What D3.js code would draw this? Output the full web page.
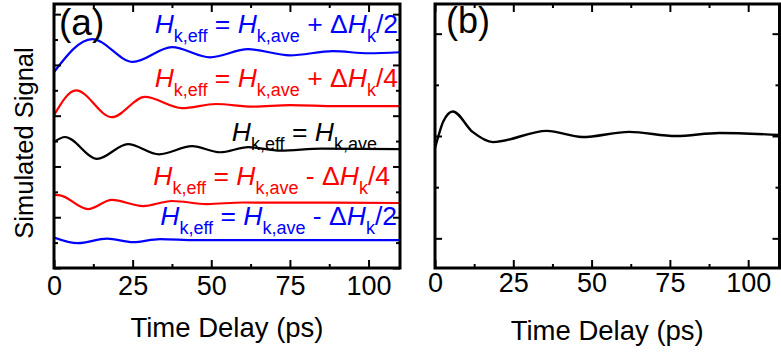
<!DOCTYPE html>
<html>
<head>
<meta charset="utf-8">
<script src="https://cdn.jsdelivr.net/npm/d3@7"></script>
<style>
  html, body { margin: 0; padding: 0; background: #fff; }
  svg { display: block; font-family: "Liberation Sans", Arial, sans-serif; }
</style>
</head>
<body>
<svg id="chart" width="781" height="352"></svg>
<script>
// ---------------- DATA ----------------
const xMajorTicks = [0, 25, 50, 75, 100];
const xMinorTicks = [12.5, 37.5, 62.5, 87.5];
const aYMajorTicks = [0, 1, 2, 3, 4, 5];
const aYMinorTicks = [0.5, 1.5, 2.5, 3.5, 4.5];
const bYMajorTicks = [-1, 0, 1];
const bYMinorTicks = [-0.5, 0.5];

// panel (a) series: [time (ps), signal]
const seriesPlusHalf = [[0,3.86],[12.1,4.51],[25.1,4.06],[37.5,4.35],[49.6,4.15],[61.7,4.31],[75,4.19],[88.7,4.27],[100,4.23],[110,4.25]];
const seriesPlusQuarter = [[0,3.01],[7,3.50],[18.4,2.97],[28.9,3.37],[40.7,3.15],[51.5,3.23],[63.3,3.18],[75,3.21],[90,3.19],[110,3.19]];
const seriesEqual = [[0,2.48],[3.5,2.58],[13.7,2.15],[23.5,2.44],[33.4,2.24],[43.9,2.40],[52.8,2.28],[61.7,2.38],[72,2.31],[85,2.35],[110,2.34]];
const seriesMinusQuarter = [[0,1.44],[2,1.43],[10.8,1.16],[18.4,1.34],[28.3,1.22],[37.5,1.32],[48.6,1.26],[60,1.29],[110,1.28]];
const seriesMinusHalf = [[0,0.60],[7.6,0.49],[16.9,0.58],[25.1,0.51],[33.7,0.57],[45,0.55],[110,0.55]];
// panel (b) series
const seriesB = [[0,-0.12],[1,-0.01],[2.6,0.14],[5.7,0.24],[12,0.04],[18.5,-0.06],[35.7,0.05],[47,-0.01],[62,0.04],[77,0.0],[90.8,0.03],[110,0.01]];

const seriesColors = ["#0000ff", "#ff0000", "#000000", "#ff0000", "#0000ff"];
const labelDeltas = ["+ ΔH|/2", "+ ΔH|/4", "", "- ΔH|/4", "- ΔH|/2"];

// ---------------- LAYOUT ----------------
const svg = d3.select("#chart");
svg.append("rect").attr("width", 781).attr("height", 352).attr("fill", "#fff");

const panels = [
  { left: 54, right: 400, top: 4, bottom: 268, yDomain: [0, 5.2], yMaj: aYMajorTicks, yMin: aYMinorTicks, tickLabelY: 295, titleY: 337 },
  { left: 435, right: 779.5, top: 4, bottom: 268, yDomain: [-1.29, 1.29], yMaj: bYMajorTicks, yMin: bYMinorTicks, tickLabelY: 292, titleY: 340 }
];

panels.forEach(p => {
  p.x = d3.scaleLinear().domain([0, 110]).range([p.left, p.right]);
  p.y = d3.scaleLinear().domain(p.yDomain).range([p.bottom, p.top]);
});

function drawAxes(p, g) {
  const h = p.bottom - p.top, w = p.right - p.left;
  const styleAxis = sel => {
    sel.select(".domain").remove();
    sel.selectAll("line").attr("stroke", "#000").attr("stroke-width", 2);
  };
  const gb = g.append("g").attr("transform", `translate(0,${p.bottom})`)
    .call(d3.axisBottom(p.x).tickValues(xMajorTicks).tickSize(-8).tickSizeOuter(0).tickFormat(d3.format("d")));
  styleAxis(gb);
  gb.selectAll("text").attr("y", p.tickLabelY - p.bottom).attr("dy", 0)
    .attr("font-size", 27).attr("fill", "#000").attr("font-family", "Liberation Sans, Arial, sans-serif");
  g.append("g").attr("transform", `translate(0,${p.bottom})`)
    .call(d3.axisBottom(p.x).tickValues(xMinorTicks).tickSize(-4).tickSizeOuter(0).tickFormat("")).call(styleAxis);
  g.append("g").attr("transform", `translate(0,${p.top})`)
    .call(d3.axisTop(p.x).tickValues(xMajorTicks).tickSize(-8).tickSizeOuter(0).tickFormat("")).call(styleAxis);
  g.append("g").attr("transform", `translate(0,${p.top})`)
    .call(d3.axisTop(p.x).tickValues(xMinorTicks).tickSize(-4).tickSizeOuter(0).tickFormat("")).call(styleAxis);
  g.append("g").attr("transform", `translate(${p.left},0)`)
    .call(d3.axisLeft(p.y).tickValues(p.yMaj).tickSize(-7).tickSizeOuter(0).tickFormat("")).call(styleAxis);
  g.append("g").attr("transform", `translate(${p.left},0)`)
    .call(d3.axisLeft(p.y).tickValues(p.yMin).tickSize(-4).tickSizeOuter(0).tickFormat("")).call(styleAxis);
  g.append("g").attr("transform", `translate(${p.right},0)`)
    .call(d3.axisRight(p.y).tickValues(p.yMaj).tickSize(-7).tickSizeOuter(0).tickFormat("")).call(styleAxis);
  g.append("g").attr("transform", `translate(${p.right},0)`)
    .call(d3.axisRight(p.y).tickValues(p.yMin).tickSize(-4).tickSizeOuter(0).tickFormat("")).call(styleAxis);
  g.append("rect").attr("x", p.left).attr("y", p.top).attr("width", w).attr("height", h)
    .attr("fill", "none").attr("stroke", "#000").attr("stroke-width", 3);
  g.append("text").attr("x", (p.left + p.right) / 2).attr("y", p.titleY)
    .attr("text-anchor", "middle").attr("font-size", 27.5).attr("fill", "#000").text("Time Delay (ps)");
}

// -------- Panel (a) --------
const pa = panels[0];
const ga = svg.append("g");
svg.append("clipPath").attr("id", "clipA").append("rect")
  .attr("x", pa.left).attr("y", pa.top).attr("width", pa.right - pa.left).attr("height", pa.bottom - pa.top);
const lineA = d3.line().x(d => pa.x(d[0])).y(d => pa.y(d[1])).curve(d3.curveMonotoneX);
const seriesA = [seriesPlusHalf, seriesPlusQuarter, seriesEqual, seriesMinusQuarter, seriesMinusHalf];
ga.append("g").attr("clip-path", "url(#clipA)").selectAll("path").data(seriesA).join("path")
  .attr("d", lineA).attr("fill", "none").attr("stroke", (d, i) => seriesColors[i]).attr("stroke-width", 2.2);

// labels (a)
const labelPos = [[398, 33], [398, 87], [377, 141], [390, 185], [397, 225]];
labelDeltas.forEach((delta, i) => {
  const t = ga.append("text").attr("x", labelPos[i][0]).attr("y", labelPos[i][1])
    .attr("text-anchor", "end").attr("fill", seriesColors[i]).style("white-space", "pre");
  const main = 26.5, sub = 18, dsub = 9;
  const parts = [["H", "i"], ["k,eff", "s"], [" = ", "n"], ["H", "i"], ["k,ave", "s"]];
  if (delta) {
    const [a, b] = delta.split("|");
    parts.push([" " + a.slice(0, a.length - 1), "n"], ["H", "i"], ["k", "s"], [b, "n"]);
  }
  let down = false;
  parts.forEach(([txt, kind]) => {
    const ts = t.append("tspan").text(txt);
    if (kind === "s") {
      ts.attr("font-size", sub).attr("dy", down ? 0 : dsub); down = true;
    } else {
      ts.attr("font-size", main).attr("dy", down ? -dsub : 0); down = false;
      if (kind === "i") ts.attr("font-style", "italic");
    }
  });
});
ga.append("text").attr("x", 59).attr("y", 35).attr("font-size", 37).attr("fill", "#000").text("(a)");
drawAxes(pa, ga);

svg.append("text").attr("transform", "translate(33,143) rotate(-90)").attr("text-anchor", "middle")
  .attr("font-size", 25.5).attr("fill", "#000").text("Simulated Signal");

// -------- Panel (b) --------
const pb = panels[1];
const gbp = svg.append("g");
const lineB = d3.line().x(d => pb.x(d[0])).y(d => pb.y(d[1])).curve(d3.curveMonotoneX);
gbp.append("path").datum(seriesB).attr("d", lineB).attr("fill", "none").attr("stroke", "#000").attr("stroke-width", 2.4);
gbp.append("text").attr("x", 446).attr("y", 33).attr("font-size", 36).attr("fill", "#000").text("(b)");
drawAxes(pb, gbp);
</script>
</body>
</html>
